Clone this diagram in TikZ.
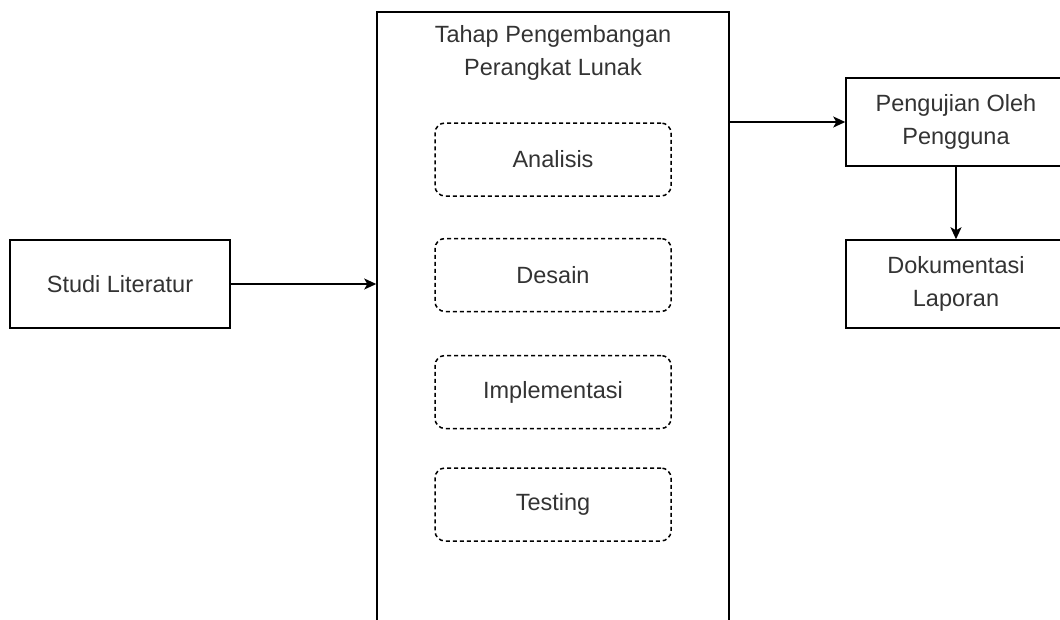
\documentclass[tikz,border=0pt]{standalone}
\usepackage{fontspec}
\setmainfont{Liberation Sans}
\usetikzlibrary{arrows.meta}
\definecolor{txt}{HTML}{333333}
\begin{document}
\begin{tikzpicture}[x=1pt,y=-1pt,
  every node/.style={font=\fontsize{23.5}{33}\selectfont, text=txt, align=center, inner sep=0pt},
  solidbox/.style={draw=black, line width=1.5pt, minimum width=220pt, minimum height=88pt},
  dashbox/.style={draw=black, line width=1.5pt, dash pattern=on 4pt off 3pt, rounded corners=10pt, minimum width=236pt, minimum height=73pt},
  conn/.style={draw=black, line width=1.5pt, -{Stealth[length=12pt,width=11pt,inset=3pt]}}
]
\useasboundingbox (0,0) rectangle (1060,619);
\clip (0,0) rectangle (1060,619);
% big container (extends beyond bottom edge)
\node[draw=black, line width=1.5pt, minimum width=352pt, minimum height=660pt] (big) at (553,342) {};
\node (title) at (553,53) {Tahap Pengembangan\\Perangkat Lunak};
\node[dashbox] (analisis) at (553,159.5) {Analisis};
\node[dashbox] (desain) at (553,275) {Desain};
\node[dashbox] (impl) at (553,392) {Implementasi};
\node[dashbox] (testing) at (553,504.5) {Testing};
\node[solidbox] (studi) at (120,284) {Studi Literatur};
\node[solidbox] (peng) at (956,122) {Pengujian Oleh\\Pengguna};
\node[solidbox] (dok) at (956,284) {Dokumentasi\\Laporan};
\draw[conn] (studi.east) -- (studi.east -| big.west);
\draw[conn] (peng.west -| big.east) -- (peng.west);
\draw[conn] (peng.south) -- (dok.north);
\end{tikzpicture}
\end{document}
